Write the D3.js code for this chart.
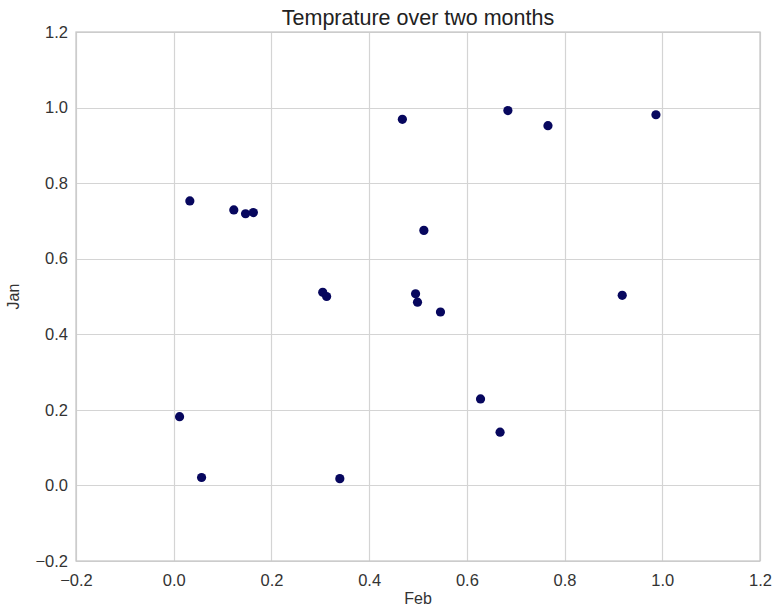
<!DOCTYPE html>
<html>
<head>
<meta charset="utf-8">
<script src="https://cdn.jsdelivr.net/npm/d3@7"></script>
<style>
  html, body { margin: 0; padding: 0; background: #fff; }
  svg { display: block; font-family: "Liberation Sans", Arial, sans-serif; }
</style>
</head>
<body>
<svg id="chart" width="773" height="610"></svg>
<script>
// Data: February (x) vs January (y) temperatures
const feb = [0.033, 0.123, 0.147, 0.163, 0.012, 0.057, 0.340, 0.305, 0.313, 0.468,
             0.684, 0.766, 0.987, 0.512, 0.495, 0.499, 0.546, 0.918, 0.628, 0.668];
const jan = [0.753, 0.729, 0.719, 0.722, 0.182, 0.021, 0.018, 0.511, 0.500, 0.969,
             0.992, 0.952, 0.981, 0.675, 0.507, 0.485, 0.459, 0.503, 0.229, 0.141];
const xTicks = [-0.2, 0.0, 0.2, 0.4, 0.6, 0.8, 1.0, 1.2];
const yTicks = [-0.2, 0.0, 0.2, 0.4, 0.6, 0.8, 1.0, 1.2];
const title = "Temprature over two months";
const xLabel = "Feb";
const yLabel = "Jan";

(function () {
const svg = d3.select("#chart");
const pl = 76, pr = 760, pt = 32, pb = 561;

const x = d3.scaleLinear().domain([-0.2, 1.2]).range([pl, pr]);
const y = d3.scaleLinear().domain([-0.2, 1.2]).range([pb, pt]);
const fmt = d3.format(".1f");

const gridColor = "#d4d4d4";
const textColor = "#333333";

// Gridlines
svg.append("g").selectAll("line").data(xTicks).join("line")
  .attr("x1", d => Math.round(x(d)) + 0.5).attr("x2", d => Math.round(x(d)) + 0.5)
  .attr("y1", pt).attr("y2", pb)
  .attr("stroke", gridColor).attr("stroke-width", 1.2);
svg.append("g").selectAll("line").data(yTicks).join("line")
  .attr("y1", d => Math.round(y(d)) + 0.5).attr("y2", d => Math.round(y(d)) + 0.5)
  .attr("x1", pl).attr("x2", pr)
  .attr("stroke", gridColor).attr("stroke-width", 1.2);

// Frame
svg.append("rect")
  .attr("x", pl).attr("y", pt)
  .attr("width", pr - pl).attr("height", pb - pt)
  .attr("fill", "none").attr("stroke", "#c8c8c8").attr("stroke-width", 1.3);

// Axes (labels only)
const xAxis = svg.append("g")
  .attr("transform", `translate(0,${pb})`)
  .call(d3.axisBottom(x).tickValues(xTicks).tickFormat(fmt).tickSize(0).tickPadding(13));
const yAxis = svg.append("g")
  .attr("transform", `translate(${pl},0)`)
  .call(d3.axisLeft(y).tickValues(yTicks).tickFormat(fmt).tickSize(0).tickPadding(8));
[xAxis, yAxis].forEach(a => {
  a.select(".domain").remove();
  a.selectAll("text")
    .attr("font-family", "'Liberation Sans', Arial, sans-serif")
    .attr("font-size", 16.5)
    .attr("fill", textColor);
});

// Points
svg.append("g").selectAll("circle").data(feb.map((f, i) => [f, jan[i]])).join("circle")
  .attr("cx", d => x(d[0])).attr("cy", d => y(d[1]))
  .attr("r", 4.6)
  .attr("fill", "#07075e");

// Title
svg.append("text")
  .attr("x", (pl + pr) / 2).attr("y", 25)
  .attr("text-anchor", "middle")
  .attr("font-size", 21.5)
  .attr("fill", "#222")
  .text(title);

// Axis labels
svg.append("text")
  .attr("x", (pl + pr) / 2).attr("y", 604)
  .attr("text-anchor", "middle")
  .attr("font-size", 16)
  .attr("fill", textColor)
  .text(xLabel);
svg.append("text")
  .attr("transform", `translate(19,${(pt + pb) / 2}) rotate(-90)`)
  .attr("text-anchor", "middle")
  .attr("font-size", 16)
  .attr("fill", textColor)
  .text(yLabel);
})();
</script>
</body>
</html>
